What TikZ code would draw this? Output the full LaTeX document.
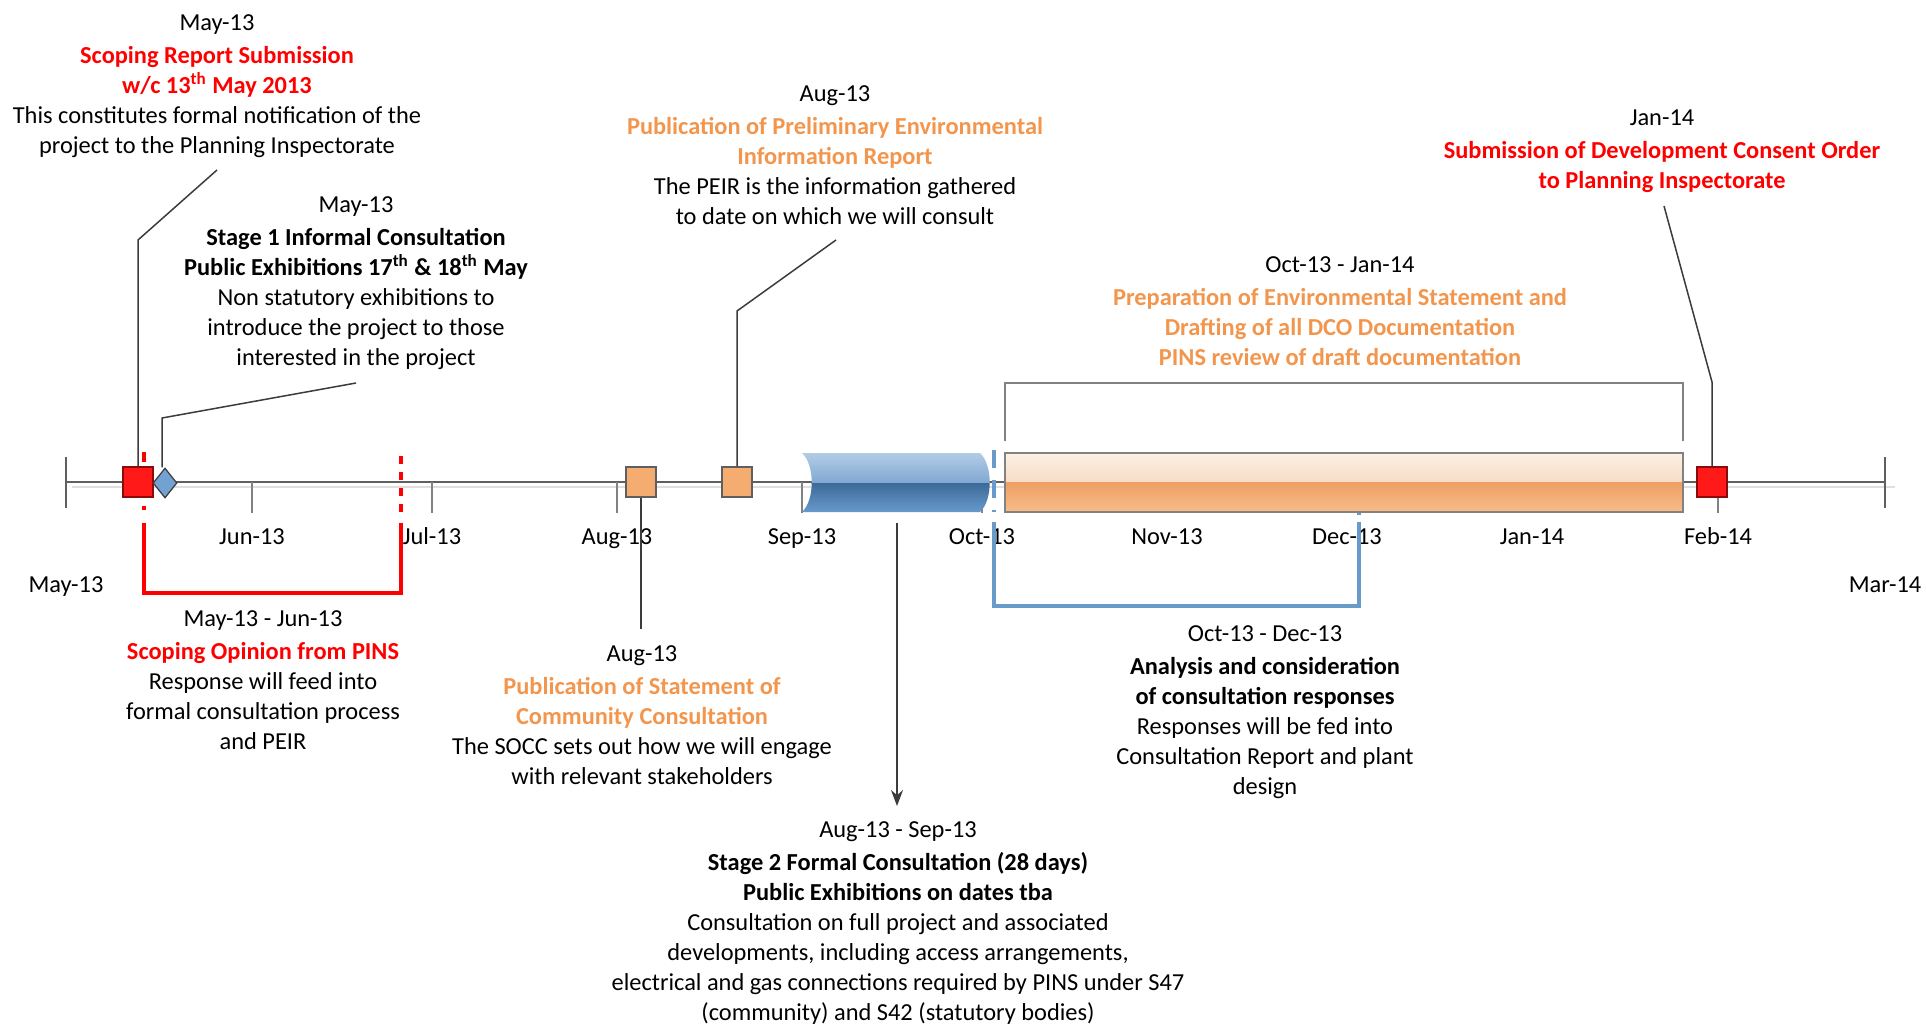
\documentclass[tikz,border=0pt]{standalone}
\usepackage{fontspec}
\setmainfont{Carlito}
\usetikzlibrary{shapes.geometric,arrows.meta}
\definecolor{redtxt}{RGB}{255,0,0}
\definecolor{ortxt}{RGB}{242,150,78}
\definecolor{reddark}{RGB}{140,10,10}
\definecolor{redfill}{RGB}{255,25,25}
\definecolor{orfill}{RGB}{245,172,112}
\definecolor{dmfill}{RGB}{115,162,210}
\definecolor{leadgray}{RGB}{60,60,60}
\definecolor{axisgray}{RGB}{95,95,95}
\definecolor{tickgray}{RGB}{130,130,130}
\definecolor{bluebr}{RGB}{104,154,202}
\definecolor{cyltop}{RGB}{184,207,231}
\definecolor{cylmid}{RGB}{128,168,210}
\definecolor{cyldark}{RGB}{60,106,152}
\definecolor{cylbot}{RGB}{110,160,212}
\definecolor{bartop}{RGB}{252,240,229}
\definecolor{barmid}{RGB}{243,200,163}
\definecolor{bardark}{RGB}{237,160,98}
\definecolor{barbot}{RGB}{247,188,138}
\newcommand{\rtxt}[1]{\textcolor{redtxt}{\bfseries #1}}
\newcommand{\otxt}[1]{\textcolor{ortxt}{\bfseries #1}}
\begin{document}
\begin{tikzpicture}[x=0.5pt,y=-0.5pt,
  txt/.style={font=\fontsize{12.2}{15}\selectfont, align=center, inner sep=0pt, anchor=north},
  month/.style={font=\fontsize{12.2}{15}\selectfont, inner sep=0pt, anchor=base},
  lead/.style={draw=leadgray, line width=0.75pt},
  tick/.style={draw=tickgray, line width=0.6pt},
  redsq/.style={draw=reddark, fill=redfill, minimum size=15pt, inner sep=0pt, line width=0.6pt},
  orsq/.style={draw=axisgray, fill=orfill, minimum size=15pt, inner sep=0pt, line width=0.6pt},
  redline/.style={draw=redtxt, line width=1.6pt},
  blueline/.style={draw=bluebr, line width=2pt}]
\useasboundingbox (0,0) rectangle (1926,1024);

% axis
\draw[draw=gray!25, line width=0.6pt] (72,487) -- (1895,487);
\draw[draw=axisgray, line width=0.6pt] (66,482) -- (1885,482)
  (66,457) -- (66,508) (1885,457) -- (1885,508);
\foreach \mx/\mlab in {252/Jun-13,432/Jul-13,617/Aug-13,802/Sep-13,982/Oct-13,
    1167/Nov-13,1347/Dec-13,1532/Jan-14,1718/Feb-14}{
  \draw[tick] (\mx,482) -- (\mx,513);
  \node[month] (m\mx) at (\mx,544) {\mlab};
}
\node[month] (mstart) at (66,592) {May-13};
\node[month] (mend) at (1885,592) {Mar-14};

% brackets
\draw[redline, dash pattern=on 5pt off 4pt] (144,452) -- (144,510);
\draw[redline, dash pattern=on 4pt off 4pt] (401,456) -- (401,513);
\draw[redline] (144,523) -- (144,593) -- (401,593) -- (401,523);
\draw[blueline, dash pattern=on 9pt off 6pt] (994,450) -- (994,512);
\draw[blueline] (1359,500) -- (1359,515);
\draw[blueline] (994,522) -- (994,606) -- (1359,606) -- (1359,522);
\draw[tick] (1005,441) -- (1005,383) -- (1683,383) -- (1683,441);

% consultation period
\begin{scope}
  \clip (802,453) -- (980,453) .. controls (993,465) and (993,500) .. (980,512)
    -- (802,512) .. controls (815,500) and (815,465) .. (802,453);
  \shade[top color=cyltop, bottom color=cylmid] (790,450) rectangle (1000,483);
  \shade[top color=cyldark, bottom color=cylbot] (790,483) rectangle (1000,516);
\end{scope}
\node[draw=tickgray, line width=0.6pt, minimum width=339pt, minimum height=29.5pt, inner sep=0pt,
  path picture={
    \shade[top color=bartop, bottom color=barmid] (path picture bounding box.north west) rectangle (path picture bounding box.east);
    \shade[top color=bardark, bottom color=barbot] (path picture bounding box.west) rectangle (path picture bounding box.south east);
  }] (prep) at (1344,482.5) {};

% milestones
\node[redsq] (sub1) at (138,482) {};
\node[diamond, draw=leadgray, fill=dmfill, minimum width=12pt, minimum height=15pt, inner sep=0pt, line width=0.6pt] (exh) at (165,483) {};
\node[orsq] (socc) at (641,482) {};
\node[orsq] (peir) at (737,482) {};
\node[redsq] (sub2) at (1712,482) {};

% texts
\node[txt] (tsub1) at (217,14) {May-13\\[1.5pt] \rtxt{Scoping Report Submission}\\ \rtxt{w/c 13\textsuperscript{th} May 2013}\\
  This constitutes formal notification of the\\ project to the Planning Inspectorate};
\node[txt] (texh) at (356,196) {May-13\\[1.5pt] \textbf{Stage 1 Informal Consultation}\\
  \textbf{Public Exhibitions 17\textsuperscript{th} \& 18\textsuperscript{th} May}\\
  Non statutory exhibitions to\\ introduce the project to those\\ interested in the project};
\node[txt] (tpeir) at (835,85) {Aug-13\\[1.5pt] \otxt{Publication of Preliminary Environmental}\\ \otxt{Information Report}\\
  The PEIR is the information gathered\\ to date on which we will consult};
\node[txt] (tprep) at (1340,256) {Oct-13 - Jan-14\\[1.5pt] \otxt{Preparation of Environmental Statement and}\\
  \otxt{Drafting of all DCO Documentation}\\ \otxt{PINS review of draft documentation}};
\node[txt] (tsub2) at (1662,109) {Jan-14\\[1.5pt] \rtxt{Submission of Development Consent Order}\\ \rtxt{to Planning Inspectorate}};
\node[txt] (topin) at (263,610) {May-13 - Jun-13\\[1.5pt] \rtxt{Scoping Opinion from PINS}\\ Response will feed into\\
  formal consultation process\\ and PEIR};
\node[txt] (tsocc) at (642,645) {Aug-13\\[1.5pt] \otxt{Publication of Statement of}\\ \otxt{Community Consultation}\\
  The SOCC sets out how we will engage\\ with relevant stakeholders};
\node[txt] (tresp) at (1265,625) {Oct-13 - Dec-13\\[1.5pt] \textbf{Analysis and consideration}\\ \textbf{of consultation responses}\\
  Responses will be fed into\\ Consultation Report and plant\\ design};
\node[txt] (tstage2) at (898,821) {Aug-13 - Sep-13\\[1.5pt] \textbf{Stage 2 Formal Consultation (28 days)}\\
  \textbf{Public Exhibitions on dates tba}\\ Consultation on full project and associated\\
  developments, including access arrangements,\\ electrical and gas connections required by PINS under S47\\
  (community) and S42 (statutory bodies)};

% leaders
\coordinate (k1) at (138,240);
\coordinate (e1) at (217,170);
\coordinate (k2) at (162,418);
\coordinate (e2) at (356,383);
\coordinate (k3) at (737,311);
\coordinate (e3) at (836,240);
\coordinate (k4) at (1712,382);
\coordinate (e4) at (1664,206);
\coordinate (cylb) at (897,523);
\coordinate (arrt) at (897,806);
\draw[lead] (sub1.north) -- (k1) -- (e1);
\draw[lead] (exh.north -| k2) -- (k2) -- (e2);
\draw[lead] (peir.north) -- (k3) -- (e3);
\draw[lead] (sub2.north) -- (k4) -- (e4);
\draw[lead, shorten >=8pt] (socc.south) -- (socc.south |- tsocc.north);
\draw[lead, -{Stealth[length=8pt,width=6pt]}] (cylb) -- (arrt);
\end{tikzpicture}
\end{document}
